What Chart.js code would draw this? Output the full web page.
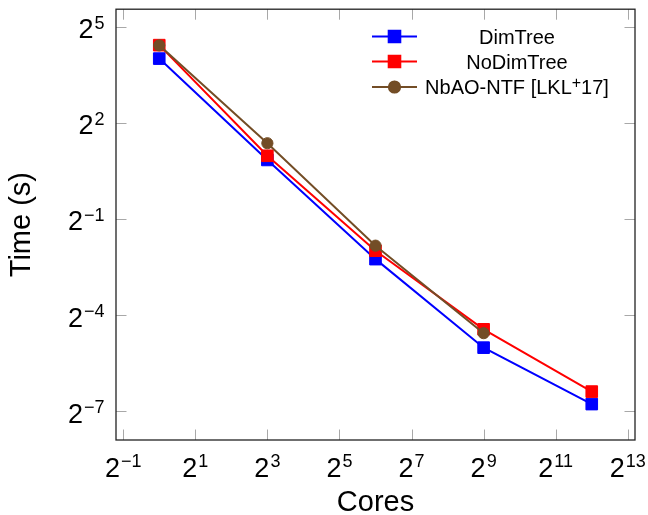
<!DOCTYPE html>
<html><head><meta charset="utf-8">
<script src="https://cdn.jsdelivr.net/npm/chart.js@4/dist/chart.umd.min.js"></script>
<style>html,body{margin:0;padding:0;background:#fff;}#wrap{width:648px;height:515px;}</style>
</head><body><div id="wrap"><canvas id="c" width="648" height="515"></canvas></div>
<script>
// ---- data ----
const cores = [1, 8, 64, 512, 4096];
const dimTree = [16.0, 1.79, 0.210, 0.0310, 0.00916];
const noDimTree = [21.4, 1.96, 0.252, 0.0461, 0.0120];
const nbaoNtf = [21.3, 2.57, 0.281, 0.0424];
const seriesLabels = ['DimTree', 'NoDimTree', 'NbAO-NTF [LKL+17]'];
const xTickExps = [-1, 1, 3, 5, 7, 9, 11, 13];
const yTickExps = [5, 2, -1, -4, -7];
const xTitle = 'Cores';
const yTitle = 'Time (s)';

const FONT = '"Liberation Sans", Arial, Helvetica, sans-serif';
const colors = ['#0000ff', '#ff0000', '#734d26'];
const styles = ['rect', 'rect', 'circle'];
const radii = [8.2, 8.2, 5.6];

function pts(xs, ys) { return ys.map((v, i) => ({ x: xs[i], y: v })); }
const seriesData = [dimTree, noDimTree, nbaoNtf];

const datasets = seriesData.map((d, i) => ({
  label: seriesLabels[i],
  data: pts(cores, d),
  borderColor: colors[i],
  backgroundColor: colors[i],
  pointBackgroundColor: colors[i],
  pointBorderColor: colors[i],
  pointBorderWidth: 1,
  pointStyle: styles[i],
  pointRadius: radii[i],
  borderWidth: 2,
  tension: 0,
  order: 2 - i
}));

function minus(s) { return String(s).replace('-', '\u2212'); }

function drawPow(ctx, base, exp, x, baseline, align, bs, es, raise) {
  ctx.font = bs + 'px ' + FONT;
  const wb = ctx.measureText(base).width;
  ctx.font = es + 'px ' + FONT;
  const es_ = minus(exp);
  const we = ctx.measureText(es_).width;
  const gap = 1;
  const total = wb + gap + we;
  let sx = align === 'center' ? x - total / 2 : (align === 'right' ? x - total : x);
  ctx.textAlign = 'left';
  ctx.textBaseline = 'alphabetic';
  ctx.font = bs + 'px ' + FONT;
  ctx.fillText(base, sx, baseline);
  ctx.font = es + 'px ' + FONT;
  ctx.fillText(es_, sx + wb + gap, baseline - raise);
  return total;
}

const framePlugin = {
  id: 'frame',
  afterDraw(chart) {
    const { ctx, chartArea: a } = chart;
    const xs = chart.scales.x, ys = chart.scales.y;
    ctx.save();
    // inward ticks on all four sides
    ctx.strokeStyle = '#a8a8a8';
    ctx.lineWidth = 1;
    const L = 10.5;
    ctx.beginPath();
    xTickExps.forEach(e => {
      const px = Math.round(xs.getPixelForValue(Math.pow(2, e))) + 0.5;
      ctx.moveTo(px, a.bottom); ctx.lineTo(px, a.bottom - L);
      ctx.moveTo(px, a.top); ctx.lineTo(px, a.top + L);
    });
    yTickExps.forEach(e => {
      const py = Math.round(ys.getPixelForValue(Math.pow(2, e))) + 0.5;
      ctx.moveTo(a.left, py); ctx.lineTo(a.left + L, py);
      ctx.moveTo(a.right, py); ctx.lineTo(a.right - L, py);
    });
    ctx.stroke();
    // axis box
    ctx.strokeStyle = '#222';
    ctx.lineWidth = 1.3;
    ctx.strokeRect(a.left, a.top, a.right - a.left, a.bottom - a.top);
    // tick labels
    ctx.fillStyle = '#000';
    xTickExps.forEach(e => {
      const px = xs.getPixelForValue(Math.pow(2, e));
      drawPow(ctx, '2', e, px, 476.5, 'center', 27, 18, 10);
    });
    yTickExps.forEach(e => {
      const py = ys.getPixelForValue(Math.pow(2, e));
      drawPow(ctx, '2', e, 104.5, py + 11.5, 'right', 27, 18, 9.5);
    });
    // axis titles
    ctx.font = '29px ' + FONT;
    ctx.textAlign = 'center';
    ctx.textBaseline = 'alphabetic';
    ctx.fillText(xTitle, (a.left + a.right) / 2, 511);
    ctx.save();
    ctx.translate(30, (a.top + a.bottom) / 2);
    ctx.rotate(-Math.PI / 2);
    ctx.fillText(yTitle, 0, 0);
    ctx.restore();
    // legend
    const rows = [36.5, 61.5, 87];
    chart.data.datasets.forEach((ds, i) => {
      const y = rows[i];
      ctx.strokeStyle = ds.borderColor;
      ctx.lineWidth = 2;
      ctx.beginPath();
      ctx.moveTo(372, y); ctx.lineTo(417, y);
      ctx.stroke();
      ctx.fillStyle = ds.pointBackgroundColor;
      Chart.helpers.drawPoint(ctx, { pointStyle: ds.pointStyle, radius: ds.pointRadius, borderWidth: 1 }, 394.5, y);
      ctx.fill();
      ctx.strokeStyle = ds.pointBorderColor;
      ctx.lineWidth = 1;
      ctx.stroke();
      // text (with superscript "+")
      ctx.fillStyle = '#000';
      const lbl = ds.label;
      const cx = 517, base = y + 7;
      const m = lbl.match(/^(.*[A-Z])\+(\d+\])$/);
      ctx.textBaseline = 'alphabetic';
      if (m) {
        ctx.font = '20px ' + FONT;
        const w1 = ctx.measureText(m[1]).width;
        const w3 = ctx.measureText(m[2]).width;
        ctx.font = '16px ' + FONT;
        const w2 = ctx.measureText('+').width;
        const tot = w1 + w2 + w3;
        let sx = cx - tot / 2;
        ctx.textAlign = 'left';
        ctx.font = '20px ' + FONT;
        ctx.fillText(m[1], sx, base);
        ctx.font = '16px ' + FONT;
        ctx.fillText('+', sx + w1, base - 6.5);
        ctx.font = '20px ' + FONT;
        ctx.fillText(m[2], sx + w1 + w2, base);
      } else {
        ctx.font = '20px ' + FONT;
        ctx.textAlign = 'center';
        ctx.fillText(lbl, cx, base);
      }
    });
    ctx.restore();
  }
};

new Chart(document.getElementById('c'), {
  type: 'line',
  data: { datasets },
  options: {
    responsive: false,
    animation: false,
    devicePixelRatio: 1,
    layout: { padding: { left: 116, top: 9, right: 13, bottom: 75 } },
    plugins: { legend: { display: false }, tooltip: { enabled: false } },
    scales: {
      x: {
        type: 'logarithmic', display: false,
        min: Math.pow(2, -1.2), max: Math.pow(2, 13.2)
      },
      y: {
        type: 'logarithmic', display: false,
        min: Math.pow(2, -7.89), max: Math.pow(2, 5.54)
      }
    }
  },
  plugins: [framePlugin]
});
</script>
</body></html>
